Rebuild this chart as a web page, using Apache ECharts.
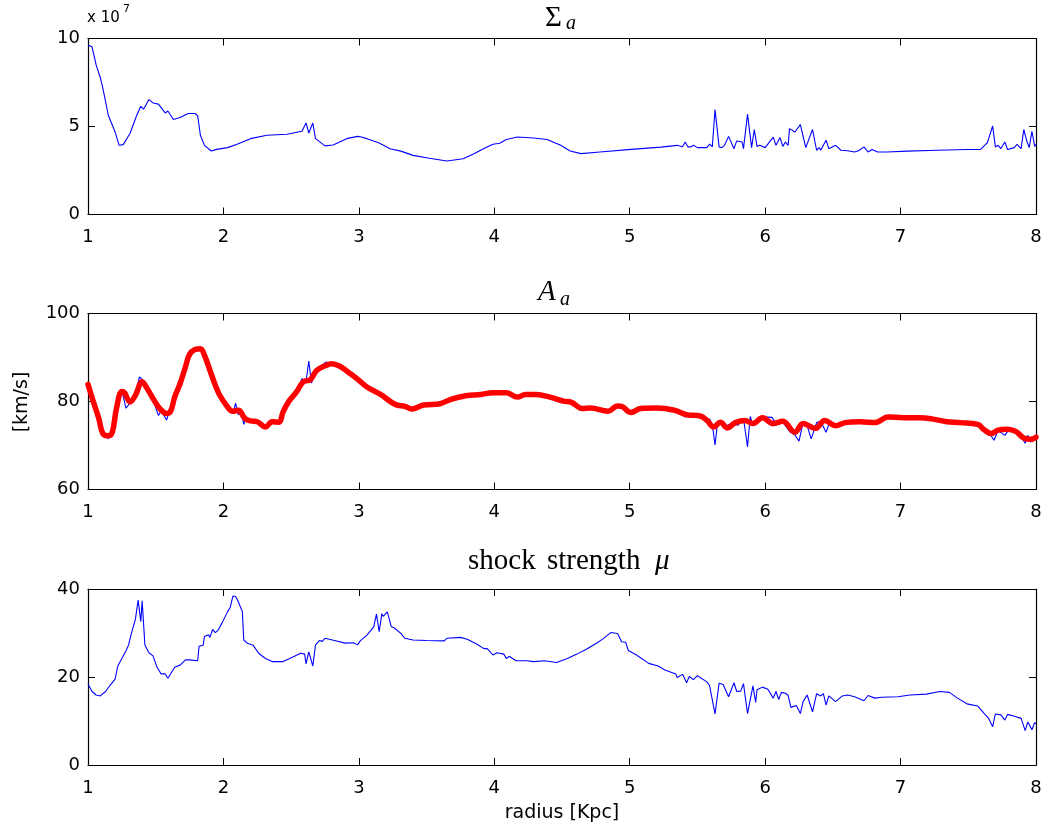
<!DOCTYPE html>
<html><head><meta charset="utf-8">
<script src="https://cdn.jsdelivr.net/npm/echarts@6/dist/echarts.min.js"></script>
<style>html,body{margin:0;padding:0;background:#fff}#c{width:1055px;height:829px}</style>
</head><body><div id="c"></div><script>
// ---------- DATA ----------
// Panel 1: Sigma_a (units of 1e7)
var sigmaR = [1.00,1.03,1.06,1.09,1.11,1.15,1.20,1.23,1.26,1.31,1.36,1.39,1.41,1.45,1.48,1.52,1.57,1.59,1.63,1.68,1.74,1.79,1.81,1.83,1.86,1.91,1.95,2.03,2.10,2.20,2.32,2.47,2.58,2.61,2.63,2.66,2.68,2.69,2.75,2.81,2.91,2.99,3.02,3.06,3.15,3.23,3.31,3.40,3.52,3.65,3.77,3.85,3.92,3.99,4.04,4.09,4.17,4.29,4.39,4.49,4.56,4.64,4.78,5.01,5.23,5.35,5.39,5.41,5.43,5.45,5.47,5.50,5.57,5.59,5.61,5.63,5.66,5.68,5.70,5.73,5.77,5.79,5.83,5.84,5.87,5.90,5.92,5.94,5.96,6.00,6.06,6.08,6.11,6.13,6.15,6.17,6.18,6.22,6.26,6.30,6.31,6.35,6.38,6.40,6.41,6.45,6.47,6.52,6.56,6.61,6.66,6.69,6.73,6.76,6.79,6.83,6.90,7.05,7.27,7.49,7.59,7.62,7.64,7.68,7.70,7.72,7.74,7.77,7.79,7.84,7.86,7.89,7.91,7.93,7.95,7.97,7.99,8.00];
var sigmaV = [9.63,9.53,8.5,7.8,7.16,5.64,4.69,3.93,3.97,4.6,5.64,6.15,5.98,6.53,6.34,6.27,5.77,5.88,5.4,5.51,5.74,5.74,5.6,4.5,3.93,3.61,3.7,3.8,3.99,4.31,4.5,4.56,4.73,5.2,4.63,5.2,4.31,4.2,3.9,3.95,4.31,4.44,4.4,4.31,4.06,3.74,3.6,3.36,3.2,3.04,3.17,3.45,3.74,3.99,4.05,4.26,4.4,4.35,4.26,3.93,3.61,3.46,3.55,3.7,3.83,3.93,3.85,4.12,3.84,3.84,3.93,3.8,3.8,4.0,3.85,5.96,3.84,3.8,3.93,4.44,3.74,4.18,4.12,3.74,5.7,3.8,4.83,3.87,3.93,3.8,4.4,3.93,4.37,3.87,4.12,3.93,4.88,4.69,5.11,3.8,3.9,4.83,3.65,3.8,3.65,4.22,3.74,3.93,3.65,3.62,3.55,3.62,3.84,3.55,3.69,3.55,3.55,3.6,3.65,3.69,3.69,3.93,4.06,5.03,3.84,3.93,3.74,4.12,3.69,3.8,3.99,3.74,4.83,4.22,3.8,4.73,3.87,3.99];

// Panel 2: A_a [km/s], smoothed (red) and raw (blue)
var ampSmoothR = [1.00,1.04,1.08,1.11,1.15,1.18,1.21,1.25,1.27,1.31,1.35,1.40,1.43,1.48,1.53,1.58,1.61,1.64,1.68,1.72,1.75,1.79,1.83,1.86,1.90,1.94,1.97,2.02,2.07,2.11,2.16,2.20,2.25,2.31,2.36,2.41,2.44,2.48,2.54,2.59,2.64,2.69,2.75,2.80,2.86,2.92,2.99,3.06,3.16,3.27,3.34,3.39,3.48,3.60,3.68,3.79,3.90,3.99,4.09,4.17,4.23,4.31,4.41,4.51,4.57,4.65,4.71,4.84,4.91,4.94,5.01,5.08,5.20,5.33,5.42,5.52,5.57,5.62,5.67,5.72,5.78,5.85,5.91,5.98,6.06,6.13,6.22,6.28,6.37,6.44,6.52,6.59,6.70,6.81,6.91,7.02,7.14,7.24,7.34,7.44,7.57,7.62,7.67,7.72,7.79,7.85,7.91,7.96,8.00];
var ampSmoothV = [83.9,79.9,76.1,72.7,72.2,73.1,78.4,82.3,82.0,79.9,81.4,84.5,83.3,80.7,78.4,77.3,77.8,81.0,84.1,87.9,90.7,91.8,92.0,90.5,87.1,83.7,81.6,79.2,77.8,78.0,76.1,75.6,75.4,74.2,75.4,75.3,77.6,79.9,82.2,84.5,84.9,87.1,88.1,88.6,88.0,86.7,85.1,83.3,81.6,79.3,78.9,78.3,79.2,79.5,80.5,81.3,81.6,82.0,82.0,81.0,81.6,81.6,81.0,80.1,79.8,78.4,78.5,77.8,79.0,78.9,77.5,78.4,78.5,78.0,77.0,76.7,75.7,74.2,75.3,74.0,75.2,75.7,75.0,76.3,75.0,75.5,73.0,75.0,73.9,75.7,74.5,75.2,75.4,75.2,76.5,76.3,76.3,76.0,75.4,75.2,74.8,73.5,72.7,73.5,73.7,73.2,71.7,71.4,71.9];
var ampRawR = [1.00,1.03,1.05,1.08,1.11,1.13,1.15,1.17,1.21,1.25,1.28,1.31,1.35,1.38,1.40,1.43,1.48,1.52,1.54,1.58,1.60,1.64,1.68,1.72,1.75,1.79,1.83,1.86,1.90,1.94,1.97,2.02,2.07,2.09,2.11,2.13,2.15,2.17,2.19,2.22,2.25,2.31,2.36,2.41,2.44,2.48,2.54,2.58,2.61,2.63,2.65,2.69,2.73,2.76,2.80,2.86,2.92,2.99,3.06,3.16,3.27,3.34,3.39,3.48,3.60,3.68,3.79,3.90,3.99,4.09,4.17,4.23,4.31,4.41,4.51,4.57,4.65,4.71,4.84,4.91,4.94,5.01,5.08,5.20,5.33,5.41,5.45,5.52,5.57,5.59,5.61,5.63,5.65,5.70,5.75,5.80,5.84,5.87,5.89,5.91,5.98,6.05,6.08,6.13,6.18,6.22,6.25,6.28,6.31,6.34,6.38,6.41,6.45,6.48,6.52,6.59,6.70,6.81,6.91,7.02,7.14,7.24,7.34,7.44,7.57,7.62,7.66,7.69,7.72,7.77,7.80,7.85,7.88,7.92,7.94,7.96,8.00];
var ampRawV = [83.5,80.5,79.8,76.0,72.2,72.8,71.5,73.0,78.6,82.5,78.5,79.6,81.5,85.6,85.0,83.5,80.5,76.8,77.9,75.8,77.7,81.2,84.3,88.0,90.9,92.0,92.3,90.6,87.0,83.6,81.4,79.0,77.3,79.6,77.0,78.2,74.8,76.5,75.2,76.0,75.1,74.3,75.3,75.0,77.7,80.3,82.4,85.2,84.5,89.2,84.2,87.5,88.3,89.0,88.5,88.0,86.6,85.0,83.2,81.5,79.0,78.8,78.1,79.1,79.4,80.4,81.2,81.5,81.8,81.7,80.8,81.4,81.5,80.9,80.0,79.7,78.0,78.4,77.6,78.9,78.7,77.3,78.3,78.4,77.9,76.5,77.0,76.5,76.0,76.0,74.8,70.1,75.5,74.3,75.0,74.6,76.2,69.7,76.6,74.5,76.5,76.4,75.1,75.3,73.2,72.4,71.0,75.2,74.5,71.5,75.2,75.5,73.0,75.6,74.4,75.0,75.3,75.1,76.4,76.2,76.2,75.9,75.3,75.1,74.6,73.4,72.6,71.2,73.4,72.3,73.6,73.1,72.5,70.5,72.3,70.8,71.9];

// Panel 3: shock strength mu
var muR = [1.00,1.03,1.06,1.09,1.13,1.16,1.20,1.22,1.25,1.28,1.30,1.32,1.35,1.37,1.39,1.40,1.42,1.45,1.48,1.51,1.54,1.57,1.59,1.64,1.68,1.72,1.75,1.81,1.82,1.85,1.86,1.89,1.90,1.92,1.94,1.96,1.99,2.03,2.05,2.07,2.09,2.11,2.14,2.15,2.18,2.22,2.26,2.31,2.36,2.44,2.49,2.57,2.60,2.61,2.63,2.66,2.68,2.71,2.73,2.75,2.82,2.90,2.96,2.99,3.01,3.06,3.11,3.13,3.15,3.17,3.18,3.21,3.24,3.26,3.31,3.34,3.40,3.50,3.63,3.65,3.75,3.80,3.87,3.92,3.95,3.99,4.02,4.07,4.09,4.11,4.16,4.24,4.29,4.37,4.46,4.54,4.61,4.68,4.76,4.80,4.86,4.91,4.94,4.97,4.99,5.05,5.14,5.21,5.26,5.34,5.35,5.39,5.42,5.44,5.47,5.50,5.57,5.59,5.63,5.66,5.69,5.73,5.77,5.79,5.82,5.84,5.87,5.91,5.93,5.94,5.98,6.02,6.06,6.08,6.10,6.12,6.15,6.17,6.19,6.23,6.26,6.28,6.31,6.35,6.38,6.41,6.43,6.45,6.47,6.52,6.57,6.61,6.66,6.73,6.76,6.81,6.86,6.98,7.07,7.19,7.29,7.36,7.42,7.49,7.57,7.62,7.65,7.68,7.70,7.74,7.77,7.79,7.84,7.89,7.90,7.92,7.94,7.97,7.99,8.00];
var muV = [18.4,16.7,15.9,15.7,16.7,18.0,19.5,22.5,24.2,25.9,27.3,29.9,33.1,37.5,32.6,37.3,27.3,25.5,24.8,22.2,20.7,20.7,19.7,22.2,22.7,23.9,23.9,23.7,27.0,27.2,29.2,29.6,29.0,30.8,30.1,30.6,32.3,34.8,35.8,38.4,38.3,37.1,34.8,28.4,27.6,27.2,25.4,24.2,23.5,23.5,24.2,25.4,25.2,23.0,25.7,22.5,27.3,28.3,28.1,28.8,28.3,27.7,27.8,27.3,28.2,29.5,31.4,34.3,30.3,34.4,33.8,34.8,31.4,31.2,29.9,28.8,28.4,28.3,28.2,28.8,29.0,28.6,27.5,26.5,26.4,25.0,25.5,25.2,24.2,24.7,23.7,23.7,23.5,23.7,23.3,24.2,25.2,26.3,27.8,28.6,30.1,29.9,28.0,27.9,26.0,25.0,23.1,22.5,21.6,20.7,19.9,20.6,18.7,20.1,19.4,20.3,18.9,18.0,11.6,18.6,18.3,15.5,18.7,16.7,16.8,18.5,11.7,18.0,14.2,17.1,17.7,17.2,15.2,16.7,14.9,16.5,16.3,15.8,13.1,13.5,11.7,14.4,15.9,12.1,16.2,15.7,16.2,13.6,15.7,14.4,15.7,15.9,15.5,14.6,15.8,15.2,15.4,15.5,15.9,16.1,16.7,16.5,15.2,13.9,13.4,11.6,10.6,8.7,11.6,11.4,10.2,11.5,11.1,10.6,10.4,7.8,9.8,8.0,9.6,9.4];

var xTicks = {min: 1, max: 8, interval: 1};
var yRanges = [[0, 10, 5], [60, 100, 20], [0, 40, 20]];

// ---------- CHART ----------
function zip(a, b) { return a.map(function (v, i) { return [v, b[i]]; }); }
var chart = echarts.init(document.getElementById('c'), null, {renderer: 'canvas'});
var tops = [38.5, 313.5, 589];
var grids = [], xAxes = [], yAxes = [];
var sans = '"DejaVu Sans", "Liberation Sans", Arial, sans-serif';
var serif = '"Liberation Serif", "Times New Roman", serif';
var lineCol = '#000';
tops.forEach(function (t, i) {
  grids.push({left: 88, top: t, width: 948, height: 176, show: false});
  var tick = {show: true, inside: true, length: 7, lineStyle: {color: lineCol, width: 1}};
  var line = {show: true, onZero: false, lineStyle: {color: lineCol, width: 1.2}};
  xAxes.push({gridIndex: i, type: 'value', position: 'bottom', min: xTicks.min, max: xTicks.max, interval: xTicks.interval,
    axisLine: line, axisTick: tick, splitLine: {show: false},
    axisLabel: {show: true, color: '#000', fontSize: 18, fontFamily: sans, margin: 14}});
  xAxes.push({gridIndex: i, type: 'value', position: 'top', min: xTicks.min, max: xTicks.max, interval: xTicks.interval,
    axisLine: line, axisTick: tick, splitLine: {show: false}, axisLabel: {show: false}});
  var yr = yRanges[i];
  yAxes.push({gridIndex: i, type: 'value', position: 'left', min: yr[0], max: yr[1], interval: yr[2],
    axisLine: line, axisTick: tick, splitLine: {show: false},
    axisLabel: {show: true, color: '#000', fontSize: 18, fontFamily: sans, margin: 8}});
  yAxes.push({gridIndex: i, type: 'value', position: 'right', min: yr[0], max: yr[1], interval: yr[2],
    axisLine: line, axisTick: tick, splitLine: {show: false}, axisLabel: {show: false}});
});

var blue = '#0000ff', red = '#ff0000';
var series = [
  {type: 'line', xAxisIndex: 0, yAxisIndex: 0, data: zip(sigmaR, sigmaV), showSymbol: false, symbol: 'none',
    lineStyle: {color: blue, width: 1.1}, itemStyle: {color: blue}, animation: false},
  {type: 'line', xAxisIndex: 2, yAxisIndex: 2, data: zip(ampRawR, ampRawV), showSymbol: false, symbol: 'none',
    lineStyle: {color: blue, width: 1.1}, itemStyle: {color: blue}, animation: false},
  {type: 'line', xAxisIndex: 2, yAxisIndex: 2, data: zip(ampSmoothR, ampSmoothV), showSymbol: false, symbol: 'none', smooth: 0.4,
    lineStyle: {color: red, width: 5.5, cap: 'round', join: 'round'}, itemStyle: {color: red}, z: 3, animation: false},
  {type: 'line', xAxisIndex: 4, yAxisIndex: 4, data: zip(muR, muV), showSymbol: false, symbol: 'none',
    lineStyle: {color: blue, width: 1.1}, itemStyle: {color: blue}, animation: false}
];

var graphic = [
  {type: 'text', left: 545, top: 4, style: {text: 'Σ', font: '29px ' + serif, fill: '#000'}},
  {type: 'text', left: 566, top: 14, style: {text: 'a', font: 'italic 20px ' + serif, fill: '#000'}},
  {type: 'text', left: 538, top: 278, style: {text: 'A', font: 'italic 29px ' + serif, fill: '#000'}},
  {type: 'text', left: 560, top: 290, style: {text: 'a', font: 'italic 20px ' + serif, fill: '#000'}},
  {type: 'text', left: 468, top: 547, style: {text: 'shock', font: '29px ' + serif, fill: '#000'}},
  {type: 'text', left: 547, top: 547, style: {text: 'strength', font: '29px ' + serif, fill: '#000'}},
  {type: 'text', left: 655, top: 547, style: {text: 'μ', font: 'italic 29px ' + serif, fill: '#000'}},
  {type: 'text', left: 87, top: 11, style: {text: 'x 10', font: '15px ' + sans, fill: '#000'}},
  {type: 'text', left: 123, top: 4, style: {text: '7', font: '11px ' + sans, fill: '#000'}},
  {type: 'text', x: 22, y: 402, rotation: Math.PI / 2, style: {text: '[km/s]', font: '19px ' + sans, fill: '#000', textAlign: 'center', textVerticalAlign: 'middle'}},
  {type: 'text', x: 562, y: 813, style: {text: 'radius [Kpc]', font: '19px ' + sans, fill: '#000', textAlign: 'center', textVerticalAlign: 'middle'}}
];

chart.setOption({
  backgroundColor: '#fff',
  animation: false,
  grid: grids, xAxis: xAxes, yAxis: yAxes, series: series, graphic: graphic
});
</script></body></html>
